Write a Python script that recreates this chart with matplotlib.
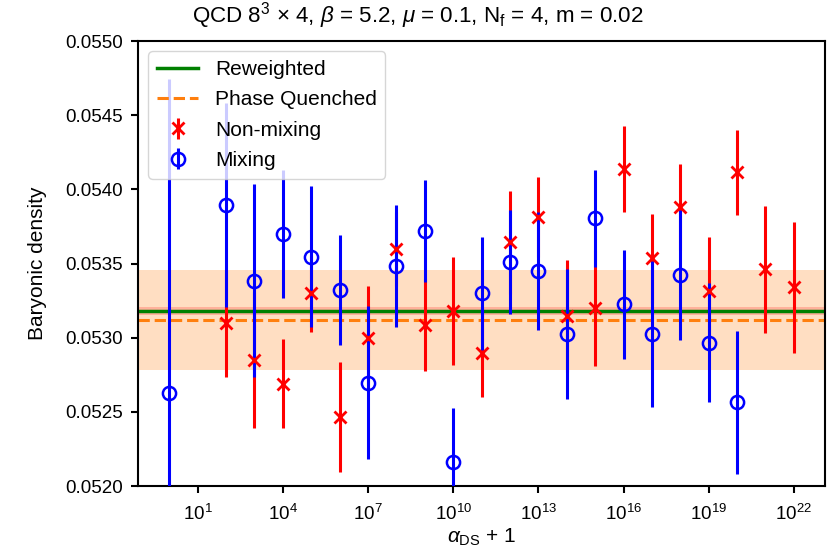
import matplotlib
matplotlib.use("Agg")
import matplotlib.pyplot as plt
import numpy as np

plt.rcParams['font.family'] = ['Liberation Sans', 'DejaVu Sans']
plt.rcParams['mathtext.fontset'] = 'custom'
plt.rcParams['mathtext.rm'] = 'Liberation Sans'
plt.rcParams['mathtext.it'] = 'Liberation Sans:italic'
plt.rcParams['mathtext.bf'] = 'Liberation Sans:bold'

# alpha_DS + 1 values (exponents of 10)
mix_exp = [0, 2, 3, 4, 5, 6, 7, 8, 9, 10, 11, 12, 13, 14, 15, 16, 17, 18, 19, 20]
mix_val = [0.052625, 0.053894, 0.053384, 0.053699, 0.053546, 0.053321, 0.052697,
           0.053485, 0.053719, 0.052164, 0.053299, 0.053508, 0.053449, 0.053025,
           0.053804, 0.053225, 0.053025, 0.053422, 0.052966, 0.052564]
mix_err = [0.00212, 0.000686, 0.00065, 0.000432, 0.000477, 0.00037, 0.000518,
           0.00041, 0.000346, 0.00036, 0.00038, 0.00035, 0.0004, 0.00044,
           0.000326, 0.000366, 0.00049, 0.00044, 0.0004, 0.00048]

non_exp = [2, 3, 4, 5, 6, 7, 8, 9, 10, 11, 12, 13, 14, 15, 16, 17, 18, 19, 20, 21, 22]
non_val = [0.053096, 0.052849, 0.052688, 0.053299, 0.052467, 0.053000, 0.053598,
           0.053085, 0.053180, 0.052899, 0.053643, 0.053811, 0.053146, 0.053198,
           0.054135, 0.053535, 0.053883, 0.053317, 0.054115, 0.053461, 0.053340]
non_err = [0.000363, 0.00046, 0.0003, 0.00026, 0.00037, 0.00035, 0.00025,
           0.00031, 0.000366, 0.0003, 0.000346, 0.00027, 0.00038, 0.00039,
           0.00029, 0.0003, 0.00029, 0.00036, 0.000285, 0.00043, 0.00044]

reweighted = 0.053178
reweighted_err = 0.000027
phase_quenched = 0.053119
phase_quenched_err = 0.000337

mix_x = [10.0 ** e for e in mix_exp]
non_x = [10.0 ** e for e in non_exp]

fig = plt.figure(figsize=(8.36, 5.55), dpi=100)
ax = fig.add_axes([0.165, 0.1243, 0.822, 0.8017])

ax.errorbar(non_x, non_val, yerr=non_err, fmt='x', color='red', ms=9, mew=2,
            elinewidth=2.2, label='Non-mixing', zorder=3)
ax.errorbar(mix_x, mix_val, yerr=mix_err, fmt='o', color='blue', mfc='none', ms=9.5,
            mew=1.8, elinewidth=2.2, label='Mixing', zorder=3)

ax.set_xscale('log')
xl = ax.get_xlim()
ax.axhspan(phase_quenched - phase_quenched_err, phase_quenched + phase_quenched_err,
           color='C1', alpha=0.25, lw=0, zorder=1)
ax.axhspan(reweighted - reweighted_err, reweighted + reweighted_err,
           color='red', alpha=0.2, lw=0, zorder=1)
ax.axhline(reweighted, color='green', lw=2.5, label='Reweighted', zorder=2)
ax.axhline(phase_quenched, color='C1', lw=2.2, ls='--', label='Phase Quenched', zorder=2)
ax.set_xlim(xl)

ax.set_ylim(0.0520, 0.0550)
ax.set_yticks(np.arange(0.0520, 0.05501, 0.0005))
ax.yaxis.set_major_formatter(matplotlib.ticker.FormatStrFormatter('%.4f'))
ax.tick_params(labelsize=13.5, width=1.5, length=5)
ax.tick_params(axis='x', pad=8)
ax.tick_params(axis='y', pad=6)
for s in ax.spines.values():
    s.set_linewidth(1.5)

ax.set_xlabel(r'$\alpha_{\mathrm{DS}}$ + 1', fontsize=15)
ax.set_ylabel('Baryonic density', fontsize=15)
ax.yaxis.set_label_coords(-0.132, 0.5)
ax.xaxis.set_label_coords(0.5, -0.092)
title = fig.text(0.5, 0.972,
                 r'QCD $8^3$ × 4, $\beta$ = 5.2, $\mu$ = 0.1, N$_\mathrm{f}$ = 4, m = 0.02',
                 fontsize=14.5, ha='center', va='center')

h, l = ax.get_legend_handles_labels()
order = [l.index(n) for n in ['Reweighted', 'Phase Quenched', 'Non-mixing', 'Mixing']]
ax.legend([h[i] for i in order], [l[i] for i in order], loc='upper left',
          fontsize=15, labelspacing=0.55)

# fit title width to the reference (~452 px)
fig.canvas.draw()
w = title.get_window_extent().width
title.set_fontsize(14.5 * 452.0 / w)

fig.savefig('out.png', dpi=100)
